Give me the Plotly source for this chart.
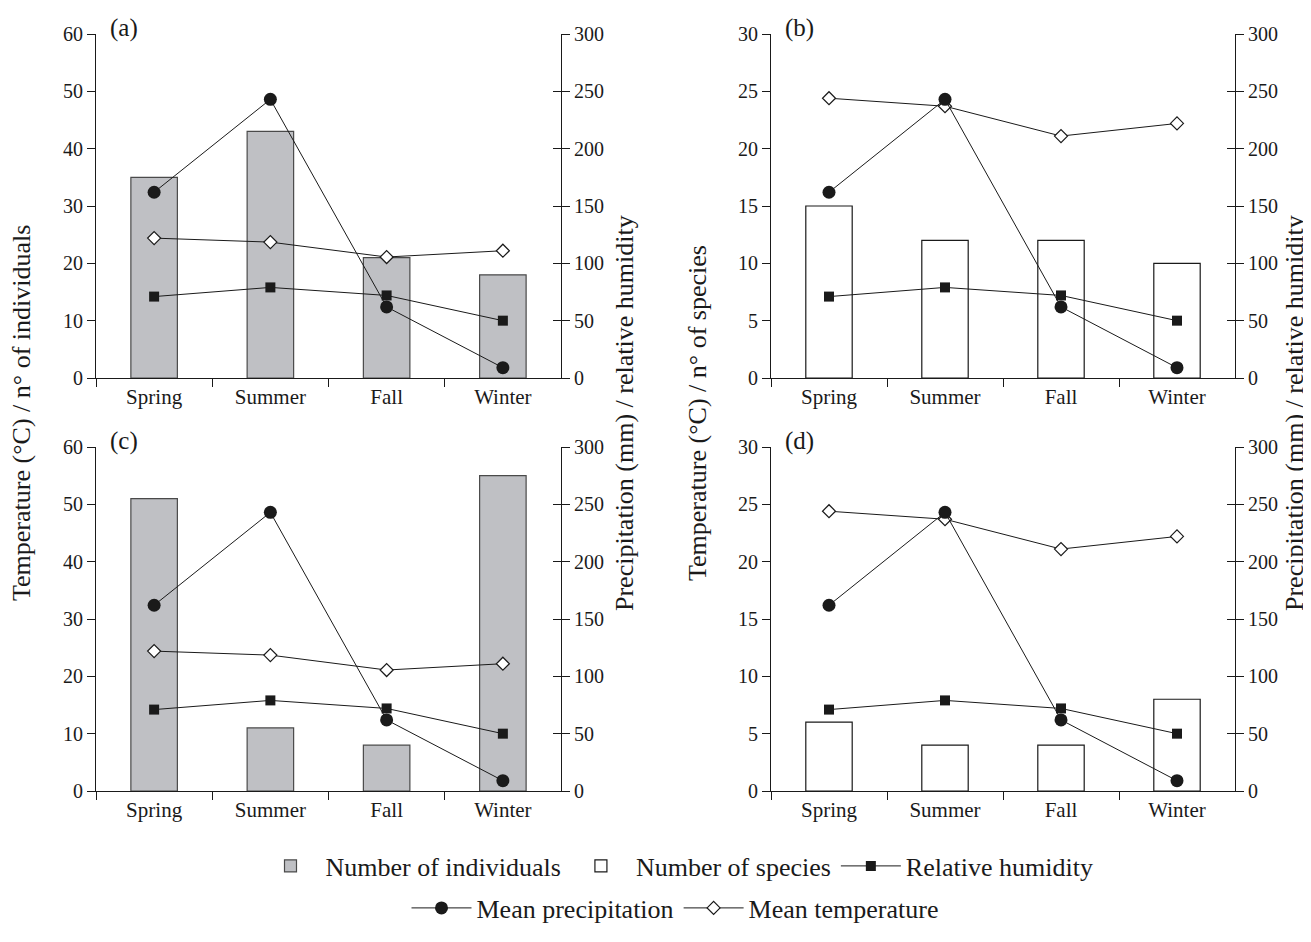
import plotly.graph_objects as go

seasons = ["Spring", "Summer", "Fall", "Winter"]
temperature = [24.4, 23.7, 21.1, 22.2]        # mean temperature (°C) - left axis
precipitation = [162, 243, 62, 9]            # mean precipitation (mm) - right axis
humidity = [71, 79, 72, 50]                  # relative humidity (%) - right axis
individuals_a = [35, 43, 21, 18]
species_b = [15, 12, 12, 10]
individuals_c = [51, 11, 8, 55]
species_d = [6, 4, 4, 8]

FONT = "Liberation Serif, Times New Roman, serif"
INK = "#1a1a1a"
GRAY_FILL = "#bfc0c4"

W, H = 1311, 942
def px_x(p): return p / W
def px_y(p): return 1 - p / H

col_dom = [[px_x(88), px_x(553)], [px_x(763), px_x(1227)]]
row_dom = [[px_y(370), px_y(26)], [px_y(783), px_y(439)]]
label_top = [20, 433]

panels = [
    dict(label="(a)", bars=individuals_a, kind="ind", col=0, row=0, ymax=60, dt=10),
    dict(label="(b)", bars=species_b, kind="sp", col=1, row=0, ymax=30, dt=5),
    dict(label="(c)", bars=individuals_c, kind="ind", col=0, row=1, ymax=60, dt=10),
    dict(label="(d)", bars=species_d, kind="sp", col=1, row=1, ymax=30, dt=5),
]

fig = go.Figure()
layout = {}
annotations = []

axis_common = dict(showgrid=False, zeroline=False, showline=True, linecolor=INK,
                   linewidth=1, ticks="outside", ticklen=8, tickcolor=INK, tickwidth=1,
                   tickfont=dict(family=FONT, size=20, color=INK), automargin=False,
                   fixedrange=True)

shown = {"ind": False, "sp": False}
for i, p in enumerate(panels):
    n = i + 1
    xa = "x" if n == 1 else f"x{n}"
    yl_n = 2 * i + 1
    yr_n = 2 * i + 2
    yt_n = 9 + i
    yl = "y" if yl_n == 1 else f"y{yl_n}"
    yr = f"y{yr_n}"
    yt = f"y{yt_n}"

    layout["xaxis" if n == 1 else f"xaxis{n}"] = dict(
        axis_common, domain=col_dom[p["col"]], anchor=yl, type="category",
        range=[-0.5, 3.5], tickson="boundaries",
        tickfont=dict(family=FONT, size=21, color=INK))
    layout["yaxis" if yl_n == 1 else f"yaxis{yl_n}"] = dict(
        axis_common, domain=row_dom[p["row"]], anchor=xa, range=[0, p["ymax"]],
        dtick=p["dt"], tick0=0)
    layout[f"yaxis{yr_n}"] = dict(
        axis_common, domain=row_dom[p["row"]], anchor=xa, overlaying=yl, side="right",
        range=[0, 300], dtick=50, tick0=0)
    layout[f"yaxis{yt_n}"] = dict(
        axis_common, domain=row_dom[p["row"]], anchor=xa, overlaying=yl, side="right",
        range=[0, 300], dtick=50, tick0=0, ticks="inside", showticklabels=False)

    if p["kind"] == "ind":
        bar_style = dict(color=GRAY_FILL, line=dict(color="#4a4a4a", width=1.2))
        name = "Number of individuals"
        rank = 1
    else:
        bar_style = dict(color="white", line=dict(color=INK, width=1.2))
        name = "Number of species"
        rank = 2
    fig.add_trace(go.Bar(x=seasons, y=p["bars"], width=0.4, marker=bar_style,
                         name=name, xaxis=xa, yaxis=yl, legend="legend",
                         legendrank=rank, showlegend=not shown[p["kind"]]))
    shown[p["kind"]] = True

    first = (i == 0)
    fig.add_trace(go.Scatter(x=seasons, y=temperature, mode="lines+markers",
                             name="Mean temperature", xaxis=xa, yaxis=yl,
                             line=dict(color=INK, width=1),
                             marker=dict(symbol="diamond", size=10, color="white",
                                         line=dict(color=INK, width=1.2)),
                             legend="legend2", legendrank=2, showlegend=first))
    fig.add_trace(go.Scatter(x=seasons, y=humidity, mode="lines+markers",
                             name="Relative humidity", xaxis=xa, yaxis=yr,
                             line=dict(color=INK, width=1),
                             marker=dict(symbol="square", size=10, color=INK),
                             legend="legend", legendrank=3, showlegend=first))
    fig.add_trace(go.Scatter(x=seasons, y=precipitation, mode="lines+markers",
                             name="Mean precipitation", xaxis=xa, yaxis=yr,
                             line=dict(color=INK, width=1),
                             marker=dict(symbol="circle", size=13, color=INK),
                             legend="legend2", legendrank=1, showlegend=first))
    fig.add_trace(go.Scatter(x=[], y=[], xaxis=xa, yaxis=yt, showlegend=False,
                             hoverinfo="skip"))

    annotations.append(dict(text=p["label"], xref="paper", yref="paper",
                            x=col_dom[p["col"]][0] + px_x(12),
                            y=px_y(label_top[p["row"]]),
                            xanchor="left", yanchor="middle", showarrow=False,
                            font=dict(family=FONT, size=25, color=INK)))

title_font = dict(family=FONT, size=26, color=INK)
ymid = px_y(405)
for xpos, txt in [(13, "Temperature (°C) / n° of individuals"),
                  (616, "Precipitation (mm) / relative humidity"),
                  (689, "Temperature (°C) / n° of species"),
                  (1286, "Precipitation (mm) / relative humidity")]:
    annotations.append(dict(text=txt, xref="paper", yref="paper", x=px_x(xpos), y=ymid,
                            xanchor="center", yanchor="middle", textangle=-90,
                            showarrow=False, font=title_font))

legend_font = dict(family=FONT, size=26, color=INK)
fig.update_layout(
    width=W, height=H, margin=dict(l=0, r=0, t=0, b=0),
    paper_bgcolor="white", plot_bgcolor="rgba(0,0,0,0)",
    font=dict(family=FONT, color=INK),
    annotations=annotations,
    legend=dict(orientation="h", x=px_x(669), xanchor="center", y=px_y(858),
                yanchor="middle", font=legend_font, bgcolor="rgba(0,0,0,0)",
                itemwidth=60, traceorder="normal"),
    legend2=dict(orientation="h", x=px_x(667), xanchor="center", y=px_y(900),
                 yanchor="middle", font=legend_font, bgcolor="rgba(0,0,0,0)",
                 itemwidth=60, traceorder="normal"),
    showlegend=True,
    **layout,
)

fig.write_html("out.html")
